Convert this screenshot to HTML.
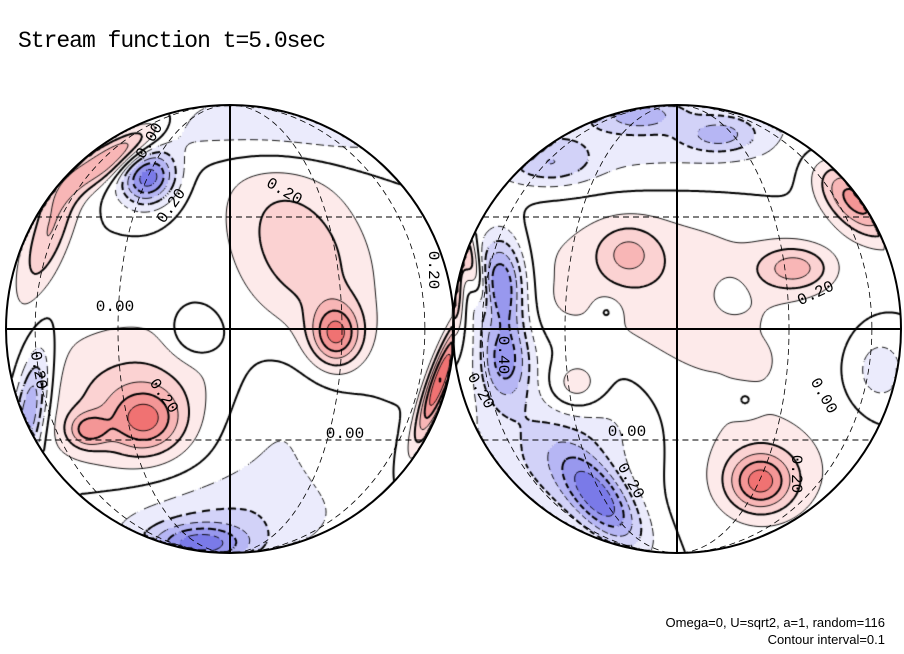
<!DOCTYPE html>
<html><head><meta charset="utf-8">
<style>
html,body{margin:0;padding:0;background:#fff;}
#wrap{position:relative;width:904px;height:654px;overflow:hidden;font-family:"Liberation Sans",sans-serif;}
canvas,svg{position:absolute;left:0;top:0;}
</style></head>
<body>
<div id="wrap">
<canvas id="cv" width="904" height="654"></canvas>
<svg id="ov" width="904" height="654">
<text x="18" y="47" font-size="23" font-family="Liberation Mono, monospace" textLength="308">Stream function t=5.0sec</text>
<text x="885" y="627" font-size="13" text-anchor="end" font-family="Liberation Sans, sans-serif">Omega=0, U=sqrt2, a=1, random=116</text>
<text x="885" y="644" font-size="13" text-anchor="end" font-family="Liberation Sans, sans-serif">Contour interval=0.1</text>
</svg>
</div>
<script>
// hemisphere geometry
const hemiCx = [230, 677];
const hemiCy = [329, 329];
const hemiR = [224, 224];
// blob data: centres, widths, rotation, amplitude
const blobX  = [115, 50, 148, 145, 88, 140, 336, 300, 440, 195, 200, 210, 30, 290, 260, 455,
                628, 795, 575, 752, 607, 730, 745, 573, 760, 770, 855, 470, 500, 505, 600, 560, 640, 720, 550, 620, 880, 640, 700];
const blobY  = [155, 230, 178, 420, 430, 400, 335, 250, 380, 333, 545, 520, 410, 125, 430, 290,
                253, 268, 387, 362, 311, 295, 400, 298, 482, 470, 200, 260, 285, 360, 500, 430, 115, 135, 165, 130, 370, 300, 320];
const blobSx = [40, 15, 20, 25, 14, 75, 18, 45, 8, 18, 35, 90, 12, 120, 60, 6,
                22, 26, 22, 12, 10, 12, 10, 10, 22, 55, 35, 8, 18, 18, 40, 60, 25, 25, 30, 150, 20, 105, 60];
const blobSy = [12, 50, 18, 22, 12, 55, 22, 70, 45, 18, 14, 30, 45, 25, 60, 30,
                20, 16, 20, 12, 10, 12, 10, 10, 20, 45, 18, 40, 35, 30, 18, 80, 10, 12, 15, 45, 25, 85, 60];
const blobAng = [-35, 20, -35, 0, 0, 0, 0, -30, 20, 0, 0, 0, 10, 0, 0, 0,
                 0, 0, 0, 0, 0, 0, 0, 0, 0, 0, 45, -20, 0, 0, 50, 40, 0, 0, 0, 0, 0, 0, 0];
const blobAmp = [0.45, 0.3, -0.55, 0.35, 0.3, 0.25, 0.45, 0.27, 0.6, -0.17, -0.45, -0.17, -0.45, -0.2, -0.14, 0.3,
                 0.2, 0.3, 0.24, 0.1, -0.12, -0.12, -0.1, 0.08, 0.42, 0.14, 0.45, 0.3, -0.55, -0.4, -0.5, -0.24, -0.22, -0.22, -0.2, -0.2, -0.17, 0.18, 0.02];
const levels = [-0.5,-0.4,-0.3,-0.2,-0.1,0,0.1,0.2,0.3,0.4,0.5,0.6];
const posColors = ["#fdeaea","#fbd2d2","#f8b6b6","#f49696","#f07272","#ea4a4a"];
const negColors = ["#ebebfc","#d2d2f8","#b6b6f4","#9898ee","#7a7ae8","#5656e0"];
const contourLabels = [["0.20",285,190,30],["0.20",170,205,-55],["0.00",115,305,0],["0.20",165,395,55],["0.00",345,432,0],["0.20",435,270,90],["0.20",40,370,80],["0.00",148,140,-60],
  ["0.40",505,355,90],["0.00",627,430,0],["0.20",815,292,-25],["0.00",825,395,60],["0.20",632,480,60],["0.20",798,474,90],["0.20",482,390,60]];

function hemi(x,y){for(let h=0;h<2;h++){const dx=x-hemiCx[h],dy=y-hemiCy[h];if(dx*dx+dy*dy<=hemiR[h]*hemiR[h])return h;}return -1;}
function field(x,y){
  const h=hemi(x,y); let v=0;
  for(let i=0;i<blobX.length;i++){
    const bh=hemi(blobX[i],blobY[i]); if(bh!==-1&&bh!==h)continue;
    if(bh===-1){ if(h!==(blobX[i]<453?0:1)) continue; }
    const a=blobAng[i]*Math.PI/180, dx=x-blobX[i], dy=y-blobY[i];
    const u=(dx*Math.cos(a)+dy*Math.sin(a))/blobSx[i], w=(-dx*Math.sin(a)+dy*Math.cos(a))/blobSy[i];
    v+=blobAmp[i]*Math.exp(-(u*u+w*w)/2);
  }
  return v;
}
function colorFor(v){
  const a=Math.abs(v); if(a<0.1) return null;
  const k=Math.min(5,Math.floor((a-0.1)/0.1));
  return v>0?posColors[k]:negColors[k];
}
const cv=document.getElementById('cv'),ctx=cv.getContext('2d');
ctx.fillStyle='#fff';ctx.fillRect(0,0,904,654);
const S=2, W=Math.ceil(904/S)+1, H=Math.ceil(654/S)+1;
const grid=new Float32Array(W*H);
for(let j=0;j<H;j++)for(let i=0;i<W;i++)grid[j*W+i]=field(i*S,j*S);
for(let j=0;j<H-1;j++)for(let i=0;i<W-1;i++){
  const x=i*S,y=j*S; if(hemi(x+1,y+1)<0)continue;
  const v=(grid[j*W+i]+grid[j*W+i+1]+grid[(j+1)*W+i]+grid[(j+1)*W+i+1])/4;
  const c=colorFor(v); if(!c)continue; ctx.fillStyle=c; ctx.fillRect(x,y,S,S);
}
ctx.save();
ctx.beginPath();for(let h=0;h<2;h++){ctx.moveTo(hemiCx[h]+hemiR[h],hemiCy[h]);ctx.arc(hemiCx[h],hemiCy[h],hemiR[h],0,Math.PI*2);}ctx.clip();
ctx.strokeStyle='#000';
for(const L of levels){
  const n=Math.round(L*10);
  const thick=n%2===0;
  ctx.lineWidth=thick?2:0.9;
  ctx.beginPath();
  for(let j=0;j<H-1;j++)for(let i=0;i<W-1;i++){
    if(L<0 && (((i+j)>>1)%3===0))continue;
    const x=i*S,y=j*S;
    const a=grid[j*W+i],b=grid[j*W+i+1],c=grid[(j+1)*W+i+1],d=grid[(j+1)*W+i];
    const pts=[];
    const e=(p,q,x1,y1,x2,y2)=>{if((p<L)!==(q<L)){const t=(L-p)/(q-p);pts.push([x1+(x2-x1)*t,y1+(y2-y1)*t]);}};
    e(a,b,x,y,x+S,y);e(b,c,x+S,y,x+S,y+S);e(d,c,x,y+S,x+S,y+S);e(a,d,x,y,x,y+S);
    for(let k=0;k+1<pts.length;k+=2){ctx.moveTo(pts[k][0],pts[k][1]);ctx.lineTo(pts[k+1][0],pts[k+1][1]);}
  }
  ctx.stroke();
}
ctx.restore();
const ns='http://www.w3.org/2000/svg', ov=document.getElementById('ov');
function mk(tag,attrs){const el=document.createElementNS(ns,tag);for(const k in attrs)el.setAttribute(k,attrs[k]);ov.appendChild(el);return el;}
for(let h=0;h<2;h++){
  const cx=hemiCx[h],cy=hemiCy[h],r=hemiR[h];
  for(const dy of [-112,111]){
    const hw=Math.sqrt(r*r-dy*dy);
    const ln=mk('line',{x1:cx-hw,y1:cy+dy,x2:cx+hw,y2:cy+dy,stroke:'#000','stroke-width':1,'stroke-dasharray':'6,4'});
    
    
  }
  for(const f of [0.5,0.87]){
    const el=mk('ellipse',{cx:cx,cy:cy,rx:r*f,ry:r,fill:'none',stroke:'#000','stroke-width':0.8,'stroke-dasharray':'6,4'});
    
    
  }
  const hl=mk('line',{x1:cx-r,y1:cy,x2:cx+r,y2:cy,stroke:'#000','stroke-width':2});
  
  
  const vl=mk('line',{x1:cx,y1:cy-r,x2:cx,y2:cy+r,stroke:'#000','stroke-width':2});
  
  
  const c=mk('circle',{cx:cx,cy:cy,r:r,fill:'none',stroke:'#000','stroke-width':2});
  
  
}
for(const [t,x,y,ang] of contourLabels){
  const tx=mk('text',{x:x,y:y+6,'font-size':16,'text-anchor':'middle','font-family':'Liberation Mono, monospace',transform:`rotate(${ang} ${x} ${y})`});
  tx.textContent=t;
  
  
}
</script>
</body></html>
